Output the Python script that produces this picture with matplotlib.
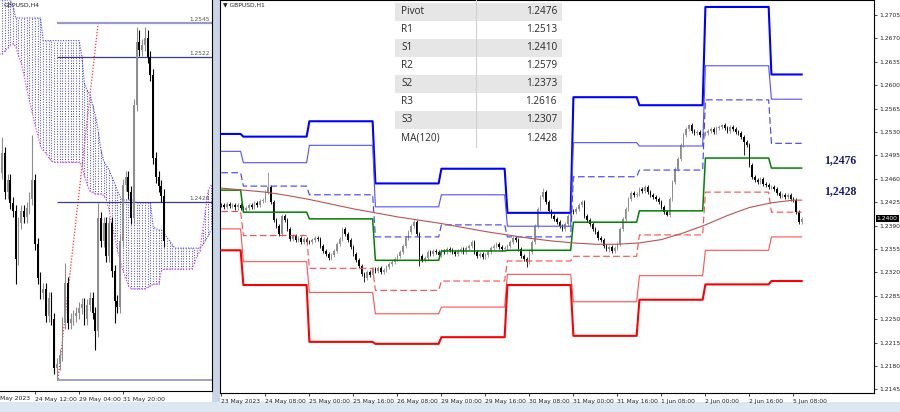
import numpy as np
import matplotlib.pyplot as plt
from matplotlib.patches import Rectangle

W, H = 900, 412

# ---------------- H1 panel data (GBPUSD, 23 May 16:00 .. 5 Jun 11:00) ----------------
h1_close = [
    # 23 May
    1.2420, 1.2418, 1.2422, 1.2419, 1.2421, 1.2417, 1.2420, 1.2416,
    # 24 May
    1.2414, 1.2416, 1.2420, 1.2418, 1.2423, 1.2421, 1.2426, 1.2428, 1.2440, 1.2448, 1.2425, 1.2398,
    1.2390, 1.2378, 1.2405, 1.2398, 1.2385, 1.2370, 1.2375, 1.2368, 1.2372, 1.2365, 1.2370, 1.2366,
    # 25 May
    1.2365, 1.2368, 1.2372, 1.2370, 1.2360, 1.2352, 1.2348, 1.2342, 1.2346, 1.2352, 1.2362, 1.2370,
    1.2385, 1.2378, 1.2368, 1.2358, 1.2348, 1.2338, 1.2330, 1.2318, 1.2312, 1.2320, 1.2316, 1.2325,
    # 26 May
    1.2322, 1.2326, 1.2320, 1.2324, 1.2328, 1.2332, 1.2336, 1.2340, 1.2345, 1.2350, 1.2360, 1.2372,
    1.2380, 1.2390, 1.2395, 1.2378, 1.2345, 1.2338, 1.2342, 1.2350, 1.2348, 1.2352, 1.2350, 1.2346,
    # 29 May
    1.2352, 1.2350, 1.2355, 1.2353, 1.2350, 1.2348, 1.2352, 1.2355, 1.2351, 1.2356, 1.2360, 1.2365,
    1.2350, 1.2345, 1.2347, 1.2343, 1.2346, 1.2350, 1.2357, 1.2360, 1.2362, 1.2358, 1.2355, 1.2357,
    # 30 May
    1.2360, 1.2365, 1.2372, 1.2368, 1.2355, 1.2345, 1.2340, 1.2335, 1.2350, 1.2365, 1.2390, 1.2415,
    1.2432, 1.2440, 1.2425, 1.2412, 1.2405, 1.2400, 1.2395, 1.2390, 1.2385, 1.2393, 1.2405, 1.2412,
    # 31 May
    1.2410, 1.2415, 1.2420, 1.2425, 1.2405, 1.2398, 1.2392, 1.2385, 1.2380, 1.2372, 1.2368, 1.2360,
    1.2355, 1.2358, 1.2352, 1.2356, 1.2362, 1.2385, 1.2400, 1.2415, 1.2430, 1.2438, 1.2435, 1.2437,
    # 1 Jun
    1.2445, 1.2442, 1.2448, 1.2440, 1.2436, 1.2432, 1.2430, 1.2425, 1.2418, 1.2410, 1.2406, 1.2430,
    1.2455, 1.2475, 1.2490, 1.2510, 1.2525, 1.2535, 1.2540, 1.2532, 1.2528, 1.2530, 1.2525, 1.2527,
    # 2 Jun
    1.2528, 1.2532, 1.2535, 1.2530, 1.2536, 1.2538, 1.2540, 1.2536, 1.2532, 1.2538, 1.2535, 1.2530,
    1.2528, 1.2522, 1.2515, 1.2510, 1.2480, 1.2462, 1.2458, 1.2455, 1.2460, 1.2452, 1.2450, 1.2447,
    # 5 Jun
    1.2448, 1.2445, 1.2438, 1.2434, 1.2436, 1.2432, 1.2435, 1.2430, 1.2428, 1.2410, 1.2395, 1.2400,
]
h1_first_open = 1.2421
# bars whose shadows stick out further than usual
h1_high_spikes = {17: 1.2470, 44: 1.2388, 70: 1.2398, 117: 1.2446, 131: 1.2428, 170: 1.2542, 182: 1.2542}
h1_low_spikes = {52: 1.2306, 72: 1.2330, 111: 1.2328, 141: 1.2351, 162: 1.2404, 190: 1.2495, 211: 1.2392}

# daily pivot levels: 23 May, 24, 25, 26, 29, 30, 31 May, 1 Jun, 2 Jun, 5 Jun
day_len = [8, 24, 24, 24, 24, 24, 24, 24, 24, 12]
r3 = [1.2527, 1.2523, 1.2546, 1.2453, 1.2475, 1.2409, 1.2582, 1.2570, 1.2717, 1.2616]
r2 = [1.2501, 1.2484, 1.2510, 1.2418, 1.2436, 1.2389, 1.2514, 1.2509, 1.2629, 1.2579]
r1 = [1.2469, 1.2449, 1.2436, 1.2373, 1.2391, 1.2373, 1.2463, 1.2473, 1.2578, 1.2513]
pivot = [1.2443, 1.2410, 1.2400, 1.2338, 1.2352, 1.2353, 1.2395, 1.2412, 1.2491, 1.2476]
s1 = [1.2411, 1.2375, 1.2326, 1.2293, 1.2307, 1.2337, 1.2344, 1.2376, 1.2440, 1.2410]
s2 = [1.2385, 1.2336, 1.2290, 1.2258, 1.2268, 1.2317, 1.2276, 1.2315, 1.2353, 1.2373]
s3 = [1.2353, 1.2301, 1.2216, 1.2213, 1.2223, 1.2301, 1.2225, 1.2279, 1.2302, 1.2307]

# MA(120) read every 8 bars
ma_bar = [0, 8, 16, 24, 32, 40, 48, 56, 64, 72, 80, 88, 96, 104, 112, 120, 128, 136, 144,
          152, 160, 168, 176, 184, 192, 200, 208, 211]
ma_val = [1.2446, 1.2443, 1.2440, 1.2435, 1.2429, 1.2422, 1.2415, 1.2409, 1.2403, 1.2398,
          1.2393, 1.2387, 1.2381, 1.2376, 1.2371, 1.2367, 1.2364, 1.2362, 1.2362, 1.2364,
          1.2369, 1.2379, 1.2391, 1.2405, 1.2417, 1.2424, 1.2428, 1.2428]

h1_tick_bar = [0, 16, 32, 48, 64, 80, 96, 112, 128, 144, 160, 176, 192, 208]
h1_tick_lab = ['23 May 2023', '24 May 08:00', '25 May 00:00', '25 May 16:00', '26 May 08:00',
               '29 May 00:00', '29 May 16:00', '30 May 08:00', '31 May 00:00', '31 May 16:00',
               '1 Jun 08:00', '2 Jun 00:00', '2 Jun 16:00', '5 Jun 08:00']
price_ticks = [1.2145, 1.2180, 1.2215, 1.2250, 1.2285, 1.2320, 1.2355, 1.2390, 1.2425,
               1.2460, 1.2495, 1.2530, 1.2565, 1.2600, 1.2635, 1.2670, 1.2705]
last_price = 1.2400

table_labels = ['Pivot', 'R1', 'S1', 'R2', 'S2', 'R3', 'S3', 'MA(120)']
table_values = ['1.2476', '1.2513', '1.2410', '1.2579', '1.2373', '1.2616', '1.2307', '1.2428']
side_labels = ['1,2476', '1,2428']

# ---------------- H4 panel data (22 May 12:00 .. 5 Jun 08:00) ----------------
h4_close = [
    1.2458, 1.2432, 1.2440, 1.2425, 1.2420, 1.2388, 1.2412, 1.2420, 1.2416, 1.2422,
    1.2428, 1.2440, 1.2398, 1.2375, 1.2365, 1.2368, 1.2350, 1.2362, 1.2348, 1.2315,
    1.2318, 1.2324, 1.2345, 1.2372, 1.2345, 1.2348, 1.2350, 1.2352, 1.2355, 1.2358,
    1.2348, 1.2357, 1.2362, 1.2352, 1.2340, 1.2415, 1.2400, 1.2412, 1.2390, 1.2412,
    1.2380, 1.2360, 1.2356, 1.2400, 1.2437, 1.2442, 1.2432, 1.2415, 1.2490, 1.2532,
    1.2527, 1.2530, 1.2535, 1.2522, 1.2510, 1.2455, 1.2442, 1.2436, 1.2430, 1.2400,
]
h4_first_open = 1.2445
h4_high_spikes = {0: 1.2469, 11: 1.2470, 23: 1.2385, 35: 1.2425, 49: 1.2542, 50: 1.2540, 52: 1.2542, 53: 1.2540}
h4_low_spikes = {5: 1.2371, 20: 1.2307, 34: 1.2327, 41: 1.2345, 59: 1.2396}

# Ichimoku cloud (bars -1 .. 76), upper and lower spans
cloud_top = [1.2560, 1.2560, 1.2560, 1.2560, 1.2560, 1.2556, 1.2548, 1.2548, 1.2548, 1.2548,
             1.2548, 1.2548, 1.2548, 1.2548, 1.2548, 1.2548, 1.2533, 1.2533, 1.2533, 1.2533,
             1.2533, 1.2533, 1.2533, 1.2533, 1.2533, 1.2533, 1.2533, 1.2533, 1.2533, 1.2533,
             1.2523, 1.2504, 1.2500, 1.2497, 1.2490, 1.2483, 1.2473, 1.2460, 1.2453, 1.2450,
             1.2447, 1.2442, 1.2438, 1.2433, 1.2429, 1.2427, 1.2427, 1.2427, 1.2427, 1.2427,
             1.2425, 1.2425, 1.2425, 1.2425, 1.2425, 1.2425, 1.2409, 1.2408, 1.2407, 1.2407,
             1.2405, 1.2402, 1.2400, 1.2397, 1.2395, 1.2395, 1.2395, 1.2395, 1.2395, 1.2395,
             1.2395, 1.2395, 1.2395, 1.2395, 1.2397, 1.2400, 1.2403, 1.2407]
cloud_bot = [1.2524, 1.2524, 1.2526, 1.2528, 1.2530, 1.2531, 1.2529, 1.2523, 1.2518, 1.2510,
             1.2501, 1.2493, 1.2485, 1.2477, 1.2470, 1.2463, 1.2460, 1.2458, 1.2455, 1.2453,
             1.2452, 1.2452, 1.2452, 1.2452, 1.2452, 1.2452, 1.2452, 1.2452, 1.2452, 1.2452,
             1.2450, 1.2443, 1.2437, 1.2433, 1.2432, 1.2431, 1.2431, 1.2431, 1.2430, 1.2427,
             1.2420, 1.2410, 1.2403, 1.2393, 1.2387, 1.2380, 1.2375, 1.2370, 1.2368, 1.2368,
             1.2368, 1.2368, 1.2368, 1.2368, 1.2369, 1.2370, 1.2371, 1.2371, 1.2371, 1.2380,
             1.2381, 1.2381, 1.2381, 1.2381, 1.2381, 1.2381, 1.2381, 1.2381, 1.2381, 1.2381,
             1.2381, 1.2385, 1.2390, 1.2393, 1.2407, 1.2420, 1.2433, 1.2437]
h4_levels = [1.2545, 1.2522, 1.2426, 1.2307]
h4_level_labels = ['1.2545', '1.2522', '1.2426', '']
trend_bar = [20.4, 35.0]
trend_price = [1.2308, 1.2545]
h4_tick_bar = [12, 28, 44]
h4_tick_lab = ['24 May 12:00', '29 May 04:00', '31 May 20:00']

plt.rcParams['font.family'] = 'DejaVu Sans'
BULL, BEAR = '#8e8e8e', '#000000'


def draw_candles(ax, closes, first_open, hi_spikes, lo_spikes, wick, width, wick_lw):
    closes = np.array(closes)
    opens = np.concatenate([[first_open], closes[:-1]])
    x = np.arange(len(closes))
    highs = np.maximum(opens, closes) + wick
    lows = np.minimum(opens, closes) - wick
    for k, v in hi_spikes.items():
        highs[k] = v
    for k, v in lo_spikes.items():
        lows[k] = v
    up = closes >= opens
    cols = np.where(up, BULL, BEAR)
    ax.vlines(x, lows, highs, colors=cols, lw=wick_lw, zorder=3)
    body = np.maximum(np.abs(closes - opens), 0.00006)
    ax.bar(x, body, bottom=np.minimum(opens, closes), width=width, color=cols, lw=0, zorder=3)


def fx(px):
    return px / W


def fy(py):
    return 1 - py / H


fig = plt.figure(figsize=(9, 4.12), dpi=100)
fig.patches.append(Rectangle((fx(212), fy(402)), 8 / W, 402 / H, transform=fig.transFigure,
                             facecolor='#c8d6e8', edgecolor='none', zorder=-1))
fig.patches.append(Rectangle((0, 0), 1, 10 / H, transform=fig.transFigure,
                             facecolor='#dde7f2', edgecolor='none', zorder=-1))

# ---------------- left H4 panel ----------------
axL = fig.add_axes([0, fy(391), 212 / W, 391 / H])
axL.set_xlim(-0.73, 76.4)
axL.set_ylim(1.2300, 1.2560)
cb = np.arange(-1, len(cloud_top) - 1)
axL.vlines(cb, cloud_bot, cloud_top, colors='#3c3cff', linestyles=(0, (1, 1.6)), lw=0.7, zorder=1)
axL.plot(cb, cloud_top, color='#3c3cff', ls=(0, (1, 1.3)), lw=0.8, zorder=2)
axL.plot(cb, cloud_bot, color='#e040e0', ls=(0, (1, 1.3)), lw=0.9, zorder=2)
axL.plot(trend_bar, trend_price, color='#ff3030', ls=(0, (1, 1.4)), lw=0.9, zorder=2)
lvl_style = [('#9a9ac8', 1.6), ('#3c3c8c', 0.9), ('#3c3c8c', 0.9), ('#9090c0', 1.2)]
for lv, lab, (c, lw) in zip(h4_levels, h4_level_labels, lvl_style):
    axL.hlines(lv, 20.0, 76.4, colors=c, lw=lw, zorder=2)
    if lab:
        axL.text(0.99, lv + 0.00006, lab, transform=axL.get_yaxis_transform(), ha='right',
                 va='bottom', fontsize=4.2, color='#555555')
draw_candles(axL, h4_close, h4_first_open, h4_high_spikes, h4_low_spikes, 0.0004, 0.7, 0.8)
axL.set_xticks(h4_tick_bar)
axL.set_xticklabels(h4_tick_lab)
axL.set_yticks([])
axL.tick_params(axis='x', length=2.5, width=0.6, labelsize=4.4, pad=1.5, colors='#222222')
for t in axL.get_xticklabels():
    t.set_ha('left')
axL.text(0.0, -0.012, 'May 2023', transform=axL.transAxes, ha='left', va='top',
         fontsize=4.4, color='#222222')
for side in ['top', 'left']:
    axL.spines[side].set_visible(False)
for side in ['right', 'bottom']:
    axL.spines[side].set_linewidth(0.8)
axL.text(0.015, 0.993, 'GBPUSD,H4', transform=axL.transAxes, ha='left', va='top',
         fontsize=4.4, color='#222222')

# ---------------- right H1 panel ----------------
axR = fig.add_axes([220 / W, fy(393), 654 / W, 393 / H])
axR.set_xlim(-0.5, 237.3)
axR.set_ylim(1.21395, 1.27274)
draw_candles(axR, h1_close, h1_first_open, h1_high_spikes, h1_low_spikes, 0.0003, 0.55, 0.6)

bars = np.arange(len(h1_close))
piv_style = [
    (r3, '#0000ff', 1.5, '-'),
    (r2, '#5050ff', 0.8, '-'),
    (r1, '#3c3cff', 0.8, (0, (6, 3))),
    (pivot, '#008000', 1.1, '-'),
    (s1, '#ff4848', 0.8, (0, (6, 3))),
    (s2, '#ff5050', 0.8, '-'),
    (s3, '#ff0000', 1.5, '-'),
]
for lv, c, lw, ls in piv_style:
    axR.plot(bars, np.repeat(lv, day_len), color=c, lw=lw, ls=ls, zorder=4)
axR.plot(ma_bar, ma_val, color='#b85450', lw=0.8, zorder=4)

axR.yaxis.tick_right()
axR.set_yticks(price_ticks)
axR.set_yticklabels([f'{p:.4f}' for p in price_ticks])
axR.set_xticks(h1_tick_bar)
axR.set_xticklabels(h1_tick_lab)
axR.tick_params(axis='both', length=2.5, width=0.6, labelsize=4.3, pad=1.5, colors='#222222')
for t in axR.get_xticklabels():
    t.set_ha('left')
for side in axR.spines.values():
    side.set_linewidth(0.8)
axR.text(1.004, last_price, f'{last_price:.4f}', transform=axR.get_yaxis_transform(),
         ha='left', va='center', fontsize=4.3, color='white', zorder=10, clip_on=False,
         bbox=dict(boxstyle='square,pad=0.18', fc='black', ec='none'))
axR.text(0.004, 0.993, '\u25bc GBPUSD,H1', transform=axR.transAxes, ha='left', va='top',
         fontsize=4.3, color='#222222')
for lab, yy in zip(side_labels, [160, 191]):
    axR.text(0.923, 1 - yy / 393, lab, transform=axR.transAxes, ha='left', va='center',
             fontsize=8.5, fontweight='bold', family='Liberation Serif', color='#1a1a78', zorder=6)

# ---------------- pivot table ----------------
tx0, tx1, tcol, ttop, trow = 395, 562, 476, 3, 18.0
for k, (lab, val) in enumerate(zip(table_labels, table_values)):
    y0 = ttop + k * trow
    fig.patches.append(Rectangle((fx(tx0), fy(y0 + trow)), (tx1 - tx0) / W, trow / H,
                                 transform=fig.transFigure, facecolor='#e6e6e6' if k % 2 == 0 else 'white',
                                 edgecolor='none', zorder=5))
    fig.text(fx(tx0 + 6), fy(y0 + trow / 2), lab, ha='left', va='center', fontsize=7.2,
             family='Open Sans', color='#2a2a2a', zorder=6)
    fig.text(fx(tx1 - 5), fy(y0 + trow / 2), val, ha='right', va='center', fontsize=7.2,
             family='Open Sans', color='#2a2a2a', zorder=6)
fig.add_artist(plt.Line2D([fx(tcol), fx(tcol)], [fy(0), fy(ttop + 8 * trow)],
                          transform=fig.transFigure, color='#d0d0d0', lw=0.8, zorder=6))

fig.savefig('out.png', dpi=100)
